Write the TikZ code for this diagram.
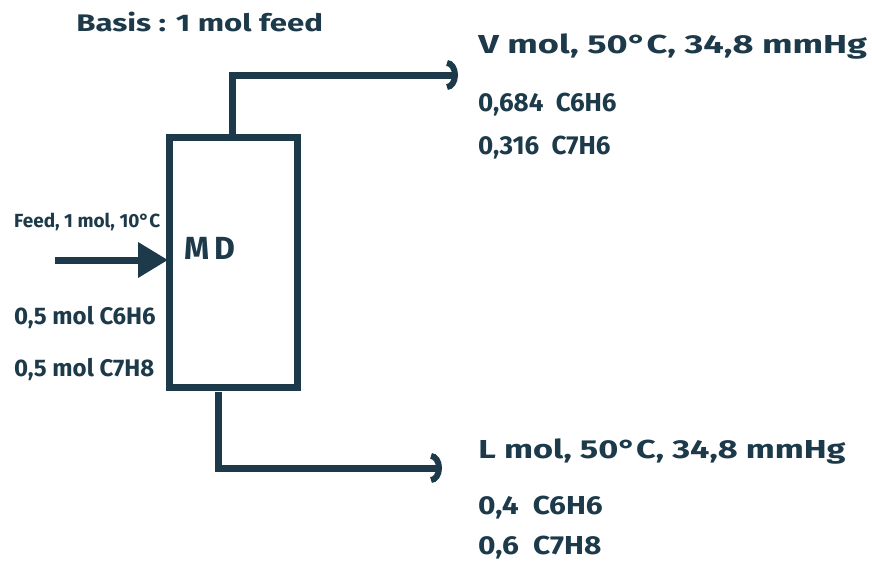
\documentclass[tikz,border=0pt]{standalone}
\usepackage{fontspec}
\setmainfont{Fira Sans}
\usetikzlibrary{arrows.meta}
\definecolor{ink}{RGB}{28,58,74}
\tikzset{
  pipe/.style={draw=ink, line width=7pt},
  outlet/.style={pipe, -{Arc Barb[length=11pt, width=30pt, line width=6pt]}},
  hand/.style={text=ink, font=\fontsize{26}{28}\selectfont\bfseries, inner sep=0pt, anchor=west},
}
\begin{document}
\begin{tikzpicture}[x=1pt, y=-1pt]
\useasboundingbox[fill=white] (0,0) rectangle (872,562);
% column
\node[draw=ink, line width=7pt, minimum width=128pt, minimum height=250pt, inner sep=0pt, anchor=north west] (col) at (166,134) {};
\node[hand, font=\fontsize{32}{34}\selectfont\bfseries] (md) at (184,248) {M\,D};
% coordinates
\coordinate (topstart) at (232,137);
\coordinate (topbend) at (232,75);
\coordinate (topend) at (458,75);
\coordinate (botstart) at (218,392);
\coordinate (botbend) at (218,468);
\coordinate (botend) at (442,468);
\coordinate (feedstart) at (55,260);
% pipes
\draw[outlet] (topstart) -- (topbend) -- (topend);
\draw[outlet] (botstart) -- (botbend) -- (botend);
\draw[pipe, -{Triangle[length=30pt, width=34pt]}, shorten >=-2pt] (feedstart) -- (col.west |- feedstart);
% texts
\node[hand, font=\fontsize{24}{26}\selectfont\bfseries, xscale=1.3] (basis) at (76,22) {Basis : 1 mol feed};
\node[hand, xscale=1.39] (vtxt) at (478,47) {V mol, 50°C, 34,8 mmHg};
\node[hand] (v1) at (478,105) {0,684\ \ C6H6};
\node[hand] (v2) at (478,148) {0,316\ \ C7H6};
\node[hand, font=\fontsize{19}{21}\selectfont\bfseries] (ftxt) at (14,222) {Feed, 1 mol, 10°C};
\node[hand, font=\fontsize{24}{26}\selectfont\bfseries] (f1) at (14,318) {0,5 mol C6H6};
\node[hand, font=\fontsize{24}{26}\selectfont\bfseries] (f2) at (14,370) {0,5 mol C7H8};
\node[hand, xscale=1.32] (ltxt) at (478,452) {L mol, 50°C, 34,8 mmHg};
\node[hand, xscale=1.15] (l1) at (478,508) {0,4\ \ C6H6};
\node[hand, xscale=1.15] (l2) at (478,548) {0,6\ \ C7H8};
\end{tikzpicture}
\end{document}
